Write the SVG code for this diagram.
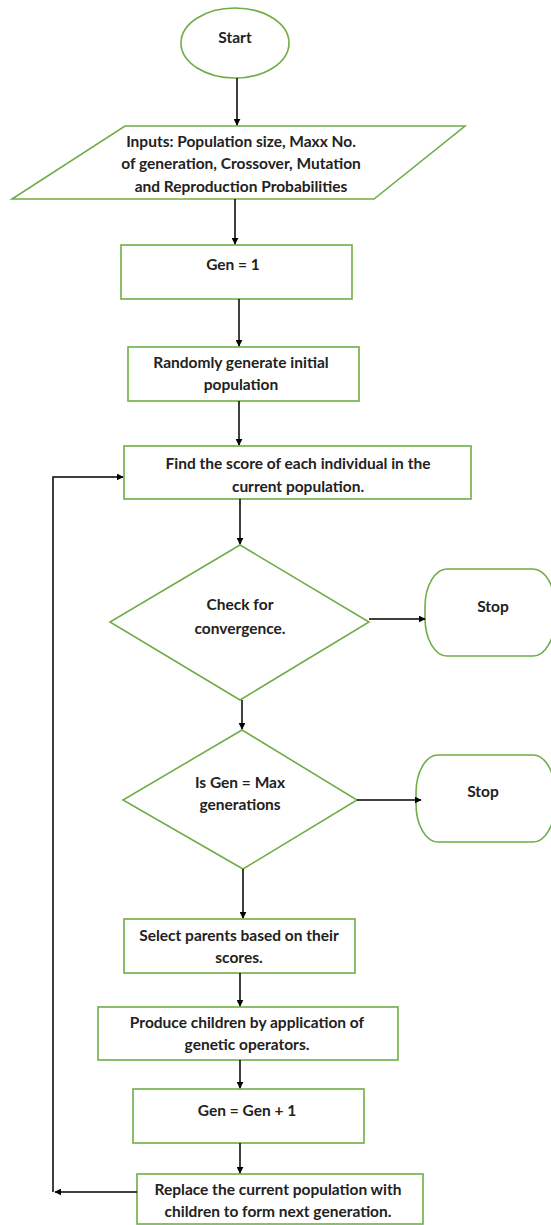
<svg xmlns="http://www.w3.org/2000/svg" width="551" height="1225" viewBox="0 0 551 1225">
<style>
.n{fill:#fff;stroke:#70ad47;stroke-width:1.6}
.t{font-family:Lato,"Liberation Sans",Arial,sans-serif;font-weight:bold;font-size:15.5px;fill:#222;text-anchor:middle}
.c{fill:none;stroke:#000;stroke-width:1.5}
</style>
<defs>
<marker id="ah" viewBox="0 0 10 10" refX="9" refY="5" markerWidth="7" markerHeight="7" markerUnits="userSpaceOnUse" orient="auto">
<path d="M0,0L10,5L0,10z" fill="#000"/>
</marker>
</defs>
<rect width="551" height="1225" fill="#fff"/>
<g id="start">
<ellipse class="n" cx="235" cy="43" rx="54" ry="35"/>
<text class="t" x="235" y="43">Start</text>
</g>
<g id="inputs">
<polygon class="n" points="125,126 465,126 374,199 12,199"/>
<text class="t" x="241" y="147">Inputs: Population size, Maxx No.</text>
<text class="t" x="241" y="169">of generation, Crossover, Mutation</text>
<text class="t" x="241" y="192">and Reproduction Probabilities</text>
</g>
<g id="gen1">
<rect class="n" x="121" y="245" width="231" height="54"/>
<text class="t" x="233" y="270">Gen = 1</text>
</g>
<g id="random">
<rect class="n" x="128" y="347" width="231" height="54"/>
<text class="t" x="241" y="368">Randomly generate initial</text>
<text class="t" x="241" y="390">population</text>
</g>
<g id="score">
<rect class="n" x="124" y="446" width="347" height="53"/>
<text class="t" x="298" y="469">Find the score of each individual in the</text>
<text class="t" x="298" y="492">current population.</text>
</g>
<g id="converge">
<polygon class="n" points="240,545 369,622 240,700 110,622"/>
<text class="t" x="240" y="610">Check for</text>
<text class="t" x="240" y="634">convergence.</text>
</g>
<g id="stop1">
<rect class="n" x="425" y="569" width="130" height="87" rx="22" ry="38"/>
<text class="t" x="493" y="612">Stop</text>
</g>
<g id="maxgen">
<polygon class="n" points="242,730 357,800 243,869 123,800"/>
<text class="t" x="240" y="788">Is Gen = Max</text>
<text class="t" x="240" y="810">generations</text>
</g>
<g id="stop2">
<rect class="n" x="416" y="755" width="139" height="87" rx="22" ry="38"/>
<text class="t" x="483" y="797">Stop</text>
</g>
<g id="select">
<rect class="n" x="124" y="919" width="231" height="54"/>
<text class="t" x="239" y="941">Select parents based on their</text>
<text class="t" x="239" y="963">scores.</text>
</g>
<g id="produce">
<rect class="n" x="98" y="1007" width="300" height="53"/>
<text class="t" x="247" y="1028">Produce children by application of</text>
<text class="t" x="247" y="1050">genetic operators.</text>
</g>
<g id="gennext">
<rect class="n" x="133" y="1089" width="231" height="54"/>
<text class="t" x="247" y="1116">Gen = Gen + 1</text>
</g>
<g id="replace">
<rect class="n" x="137" y="1174" width="286" height="50"/>
<text class="t" x="278" y="1195">Replace the current population with</text>
<text class="t" x="278" y="1217">children to form next generation.</text>
</g>
<g id="connectors">
<path class="c" d="M237,78V125" marker-end="url(#ah)"/>
<path class="c" d="M235,199V244" marker-end="url(#ah)"/>
<path class="c" d="M239,299V346" marker-end="url(#ah)"/>
<path class="c" d="M239,401V445" marker-end="url(#ah)"/>
<path class="c" d="M240,499V544" marker-end="url(#ah)"/>
<path class="c" d="M369,619H425" marker-end="url(#ah)"/>
<path class="c" d="M242,700V729" marker-end="url(#ah)"/>
<path class="c" d="M357,800H421" marker-end="url(#ah)"/>
<path class="c" d="M243,869V918" marker-end="url(#ah)"/>
<path class="c" d="M240,973V1006" marker-end="url(#ah)"/>
<path class="c" d="M240,1060V1088" marker-end="url(#ah)"/>
<path class="c" d="M240,1143V1173" marker-end="url(#ah)"/>
<path class="c" d="M137,1192H55" marker-end="url(#ah)"/>
<path class="c" d="M53,1192V477H123" marker-end="url(#ah)"/>
</g>
</svg>
